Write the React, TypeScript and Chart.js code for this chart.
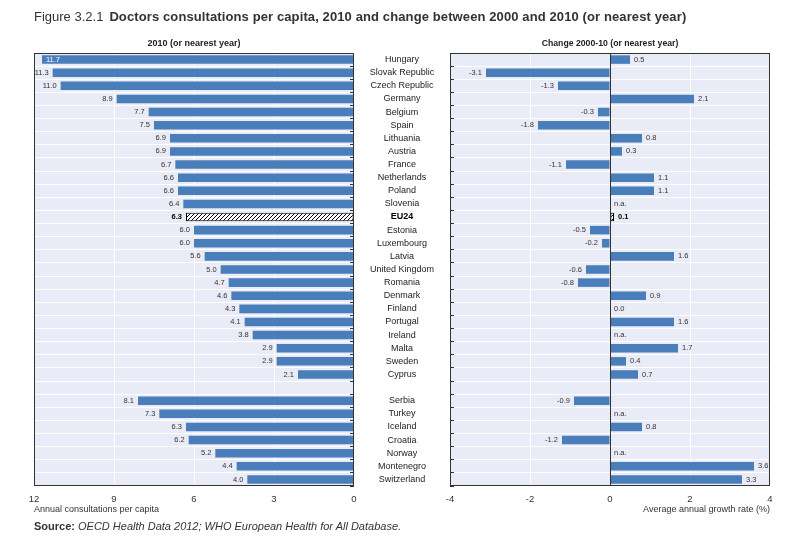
import React, { useEffect, useRef } from "react";
import { Chart, registerables } from "chart.js";

Chart.register(...registerables);

// ---------- DATA ----------
const categories = [
  "Hungary", "Slovak Republic", "Czech Republic", "Germany", "Belgium", "Spain",
  "Lithuania", "Austria", "France", "Netherlands", "Poland", "Slovenia", "EU24",
  "Estonia", "Luxembourg", "Latvia", "United Kingdom", "Romania", "Denmark",
  "Finland", "Portugal", "Ireland", "Malta", "Sweden", "Cyprus", "",
  "Serbia", "Turkey", "Iceland", "Croatia", "Norway", "Montenegro", "Switzerland",
];
const consultations2010: (number | null)[] = [
  11.7, 11.3, 11.0, 8.9, 7.7, 7.5, 6.9, 6.9, 6.7, 6.6, 6.6, 6.4, 6.3,
  6.0, 6.0, 5.6, 5.0, 4.7, 4.6, 4.3, 4.1, 3.8, 2.9, 2.9, 2.1, null,
  8.1, 7.3, 6.3, 6.2, 5.2, 4.4, 4.0,
];
const change2000to10: (number | null)[] = [
  0.5, -3.1, -1.3, 2.1, -0.3, -1.8, 0.8, 0.3, -1.1, 1.1, 1.1, null, 0.1,
  -0.5, -0.2, 1.6, -0.6, -0.8, 0.9, 0.0, 1.6, null, 1.7, 0.4, 0.7, null,
  -0.9, null, 0.8, -1.2, null, 3.6, 3.3,
];
const xTicksLeft = [0, 3, 6, 9, 12];
const xTicksRight = [-4, -2, 0, 2, 4];
const HIGHLIGHT = "EU24";

const titleLead = "Figure 3.2.1";
const titleMain = "Doctors consultations per capita, 2010 and change between 2000 and 2010 (or nearest year)";
const leftPanelTitle = "2010 (or nearest year)";
const rightPanelTitle = "Change 2000-10 (or nearest year)";
const leftAxisTitle = "Annual consultations per capita";
const rightAxisTitle = "Average annual growth rate (%)";
const sourceLead = "Source:";
const sourceText = "OECD Health Data 2012; WHO European Health for All Database.";

// ---------- STYLE ----------
const NARROW = '"Liberation Sans Narrow", "Arial Narrow", "Liberation Sans", Arial, sans-serif';
const MAIN = '"Liberation Sans", Arial, Helvetica, sans-serif';
const BAR = "#4a7ebb";
const PLOT_BG = "#e9ebf6";
const FRAME = "#333333";
const TEXT = "#333333";
const LABEL_FONT = "7.5px ";

function makeHatch(): CanvasPattern | string {
  const c = document.createElement("canvas");
  c.width = 4;
  c.height = 4;
  const g = c.getContext("2d");
  if (!g) return "#fff";
  g.fillStyle = "#fff";
  g.fillRect(0, 0, 4, 4);
  g.strokeStyle = "#000";
  g.lineWidth = 1;
  g.beginPath();
  g.moveTo(0, 4); g.lineTo(4, 0);
  g.moveTo(-1, 1); g.lineTo(1, -1);
  g.moveTo(3, 5); g.lineTo(5, 3);
  g.stroke();
  return g.createPattern(c, "repeat") || "#fff";
}

const bgPlugin = {
  id: "plotBg",
  beforeDraw(chart: any) {
    const { ctx, chartArea: a } = chart;
    ctx.save();
    ctx.fillStyle = PLOT_BG;
    ctx.fillRect(a.left, a.top, a.right - a.left, a.bottom - a.top);
    ctx.restore();
  },
};

function frame(chart: any, zero: boolean) {
  const { ctx, chartArea: a } = chart;
  ctx.save();
  ctx.strokeStyle = FRAME;
  ctx.lineWidth = 1;
  ctx.strokeRect(Math.round(a.left) + 0.5, Math.round(a.top) + 0.5, Math.round(a.right - a.left) - 1, Math.round(a.bottom - a.top) - 1);
  if (zero) {
    const x = Math.round(chart.scales.x.getPixelForValue(0)) + 0.5;
    ctx.beginPath();
    ctx.moveTo(x, a.top);
    ctx.lineTo(x, a.bottom);
    ctx.stroke();
  }
  ctx.restore();
}

const leftLabelsPlugin = {
  id: "leftLabels",
  afterDatasetsDraw(chart: any) {
    const { ctx, chartArea: a } = chart;
    const xs = chart.scales.x;
    const ys = chart.scales.y;
    ctx.save();
    ctx.textBaseline = "middle";
    consultations2010.forEach((v, i) => {
      if (v == null) return;
      const bold = categories[i] === HIGHLIGHT;
      ctx.font = (bold ? "bold " : "") + LABEL_FONT + NARROW;
      const txt = v.toFixed(1);
      const w = ctx.measureText(txt).width;
      const x = xs.getPixelForValue(v);
      const y = ys.getPixelForValue(i);
      if (x - a.left < w) {
        ctx.fillStyle = "#ffffff";
        ctx.textAlign = "left";
        ctx.fillText(txt, x + 4, y);
      } else {
        ctx.fillStyle = bold ? "#000" : TEXT;
        ctx.textAlign = "right";
        ctx.fillText(txt, x - 4, y);
      }
    });
    ctx.restore();
    frame(chart, false);
  },
};

const rightLabelsPlugin = {
  id: "rightLabels",
  afterDatasetsDraw(chart: any) {
    const { ctx } = chart;
    const xs = chart.scales.x;
    const ys = chart.scales.y;
    const x0 = xs.getPixelForValue(0);
    frame(chart, true);
    ctx.save();
    ctx.textBaseline = "middle";
    change2000to10.forEach((v, i) => {
      if (categories[i] === "") return;
      const bold = categories[i] === HIGHLIGHT;
      ctx.font = (bold ? "bold " : "") + LABEL_FONT + NARROW;
      ctx.fillStyle = bold ? "#000" : TEXT;
      const y = ys.getPixelForValue(i);
      if (v == null) {
        ctx.textAlign = "left";
        ctx.fillText("n.a.", x0 + 4, y);
        return;
      }
      const x = xs.getPixelForValue(v);
      const txt = v.toFixed(1);
      if (v < 0) {
        ctx.textAlign = "right";
        ctx.fillText(txt, x - 4, y);
      } else {
        ctx.textAlign = "left";
        ctx.fillText(txt, Math.max(x, x0) + 4, y);
      }
    });
    // category labels between the panels
    ctx.textAlign = "center";
    categories.forEach((c, i) => {
      if (!c) return;
      const bold = c === HIGHLIGHT;
      ctx.font = (bold ? "bold " : "") + "9px " + NARROW;
      ctx.fillStyle = bold ? "#000" : "#222";
      ctx.fillText(c, 42, ys.getPixelForValue(i));
    });
    ctx.restore();
  },
};

function makeConfig(values: (number | null)[], side: "left" | "right", hatch: any): any {
  const isLeft = side === "left";
  return {
    type: "bar",
    data: {
      labels: categories,
      datasets: [
        {
          data: values,
          backgroundColor: categories.map((c) => (c === HIGHLIGHT ? hatch : BAR)),
          borderColor: "#000",
          borderWidth: categories.map((c) => (c === HIGHLIGHT ? 1 : 0)),
          borderSkipped: false,
          barPercentage: 0.65,
          categoryPercentage: 1,
        },
      ],
    },
    options: {
      indexAxis: "y",
      animation: false,
      responsive: false,
      events: [],
      layout: {
        padding: isLeft
          ? { left: 34, right: 6, top: 53, bottom: 30 }
          : { left: 90, right: 23, top: 53, bottom: 30 },
      },
      plugins: { legend: { display: false }, tooltip: { enabled: false } },
      scales: {
        x: {
          type: "linear",
          position: "bottom",
          reverse: isLeft,
          min: isLeft ? 0 : -4,
          max: isLeft ? 12 : 4,
          afterBuildTicks: (s: any) => {
            s.ticks = (isLeft ? xTicksLeft : xTicksRight).map((v) => ({ value: v }));
          },
          grid: { color: "#ffffff", lineWidth: 1, drawTicks: false },
          border: { display: false },
          ticks: {
            font: { family: NARROW, size: 9.5 },
            color: TEXT,
            padding: 8,
            maxRotation: 0,
            callback: (v: any) => String(v),
          },
          afterFit: (s: any) => {
            s.height = 20;
          },
        },
        y: {
          type: "category",
          position: isLeft ? "right" : "left",
          offset: true,
          grid: {
            offset: true,
            color: "#ffffff",
            lineWidth: 1,
            drawTicks: true,
            tickLength: -4,
            tickColor: FRAME,
          },
          border: { display: false },
          ticks: { display: false },
          afterFit: (s: any) => {
            s.width = 0;
          },
        },
      },
    },
    plugins: [bgPlugin, isLeft ? leftLabelsPlugin : rightLabelsPlugin],
  };
}

export default function App() {
  const leftRef = useRef<HTMLCanvasElement | null>(null);
  const rightRef = useRef<HTMLCanvasElement | null>(null);

  useEffect(() => {
    const hatch = makeHatch();
    const charts: Chart[] = [];
    if (leftRef.current) charts.push(new Chart(leftRef.current, makeConfig(consultations2010, "left", hatch)));
    if (rightRef.current) charts.push(new Chart(rightRef.current, makeConfig(change2000to10, "right", hatch)));
    return () => charts.forEach((c) => c.destroy());
  }, []);

  const abs = (o: any) => ({ position: "absolute" as const, whiteSpace: "nowrap" as const, ...o });

  return (
    <div style={{ position: "fixed", left: 0, top: 0, width: 793, height: 536, background: "#fff", overflow: "hidden" }}>
      <canvas ref={leftRef} width={360} height={536} style={{ position: "absolute", left: 0, top: 0, width: 360, height: 536 }} />
      <canvas ref={rightRef} width={433} height={536} style={{ position: "absolute", left: 360, top: 0, width: 433, height: 536 }} />
      <div style={abs({ left: 34, top: 9, font: "13px " + MAIN, lineHeight: "16px", color: TEXT })}>
        <span>{titleLead}</span>
        <span style={{ fontWeight: "bold", marginLeft: 6, letterSpacing: "0.11px" }}>{titleMain}</span>
      </div>
      <div style={abs({ left: 34, top: 37, width: 320, textAlign: "center", font: "bold 9px " + NARROW, lineHeight: "12px", color: "#222" })}>
        {leftPanelTitle}
      </div>
      <div style={abs({ left: 450, top: 37, width: 320, textAlign: "center", font: "bold 8.7px " + NARROW, lineHeight: "12px", color: "#222" })}>
        {rightPanelTitle}
      </div>
      <div style={abs({ left: 34, top: 503, font: "9px " + NARROW, lineHeight: "12px", color: TEXT })}>{leftAxisTitle}</div>
      <div style={abs({ left: 450, top: 503, width: 320, textAlign: "right", font: "9px " + NARROW, lineHeight: "12px", color: TEXT })}>
        {rightAxisTitle}
      </div>
      <div style={abs({ left: 34, top: 519, font: "11px " + MAIN, lineHeight: "14px", color: TEXT })}>
        <span style={{ fontWeight: "bold" }}>{sourceLead}</span>{" "}
        <span style={{ fontStyle: "italic" }}>{sourceText}</span>
      </div>
    </div>
  );
}
